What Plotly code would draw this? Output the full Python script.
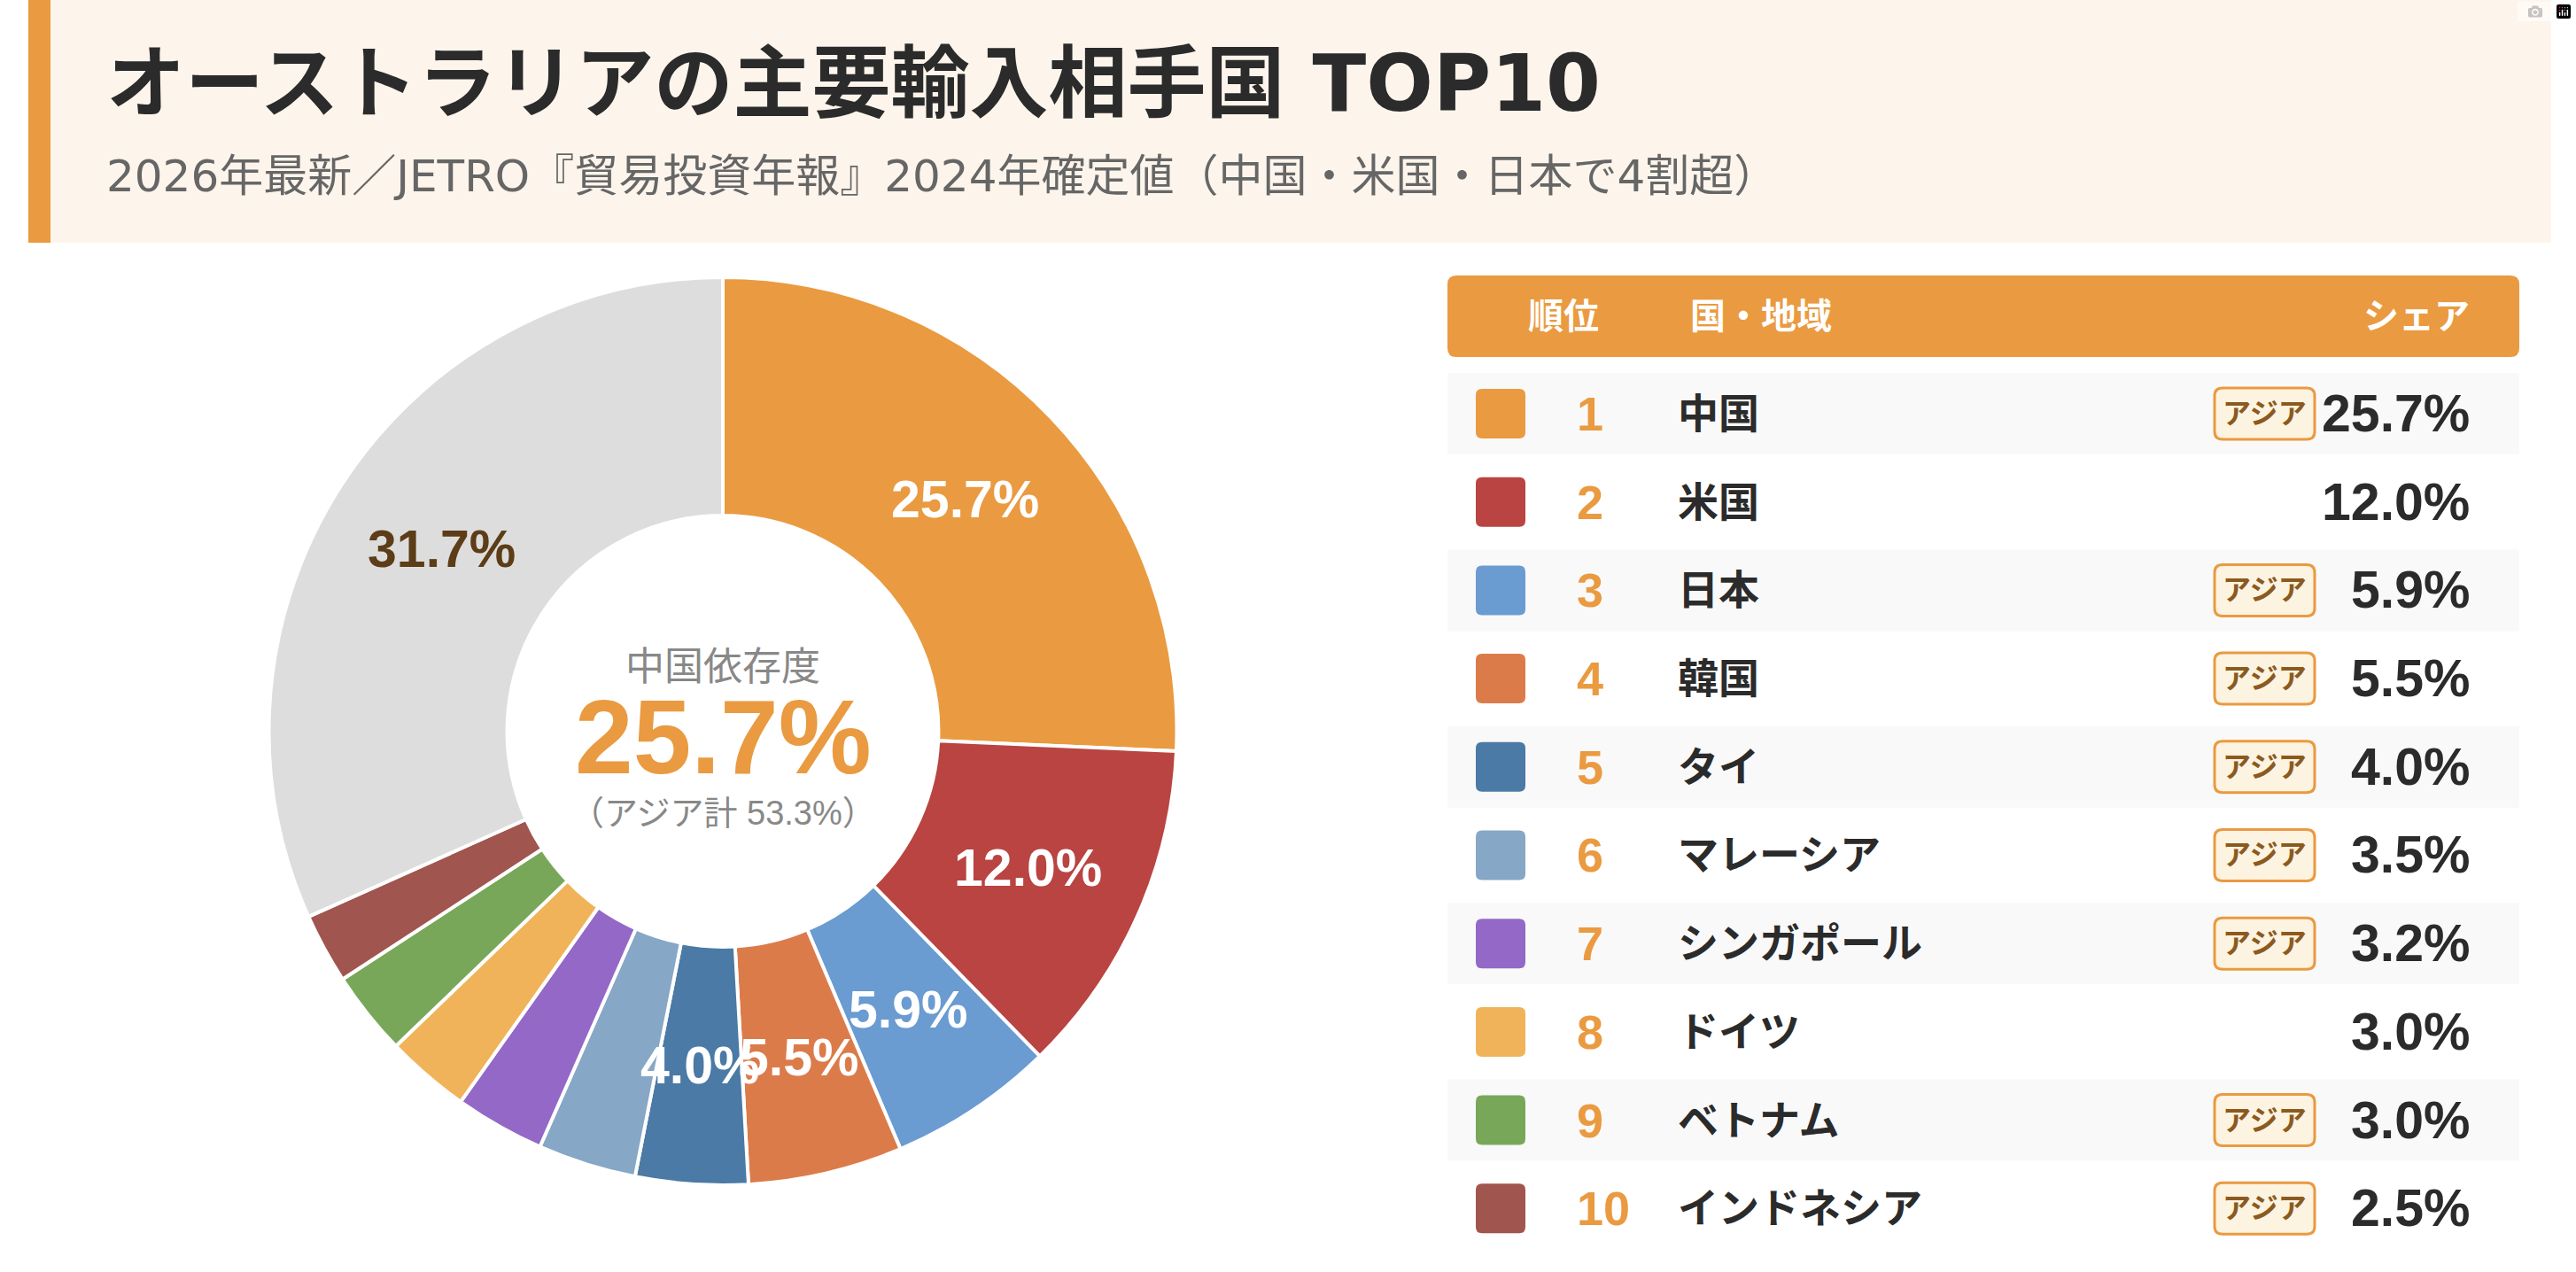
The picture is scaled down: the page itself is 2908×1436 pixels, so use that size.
import math
import plotly.graph_objects as go

# ---------------- data ----------------
countries = ["中国", "米国", "日本", "韓国", "タイ", "マレーシア", "シンガポール", "ドイツ", "ベトナム", "インドネシア"]
shares = [25.7, 12.0, 5.9, 5.5, 4.0, 3.5, 3.2, 3.0, 3.0, 2.5]
is_asia = [True, False, True, True, True, True, True, False, True, True]
others_name = "その他"
others_share = 31.7

title_text = "オーストラリアの主要輸入相手国 TOP10"
subtitle_text = "2026年最新／JETRO『貿易投資年報』2024年確定値（中国・米国・日本で4割超）"
header_labels = ["順位", "国・地域", "シェア"]
center_caption = "中国依存度"
badge_text = "アジア"

# ---------------- styles ----------------
slice_colors = ["#EA9A40", "#B94441", "#6A9BD1", "#DC7B4A", "#4A7AA5",
                "#86A7C6", "#9368C6", "#F0B35A", "#79A75A", "#A0554E"]
others_color = "#DDDDDD"
ORANGE = "#EA9A40"
DARK = "#2B2B2B"
W, H = 2908, 1436
FONT = "Liberation Sans, Noto Sans CJK JP, sans-serif"
WIDE_FONT = "DejaVu Sans, Noto Sans CJK JP, sans-serif"

def px(x):
    return x / W

def py(y):
    return 1 - y / H

def rrect_path(x0, y0, x1, y1, r):
    rx, ry = r / W, r / H
    X0, X1 = px(x0), px(x1)
    Yt, Yb = py(y0), py(y1)
    return (f"M {X0+rx},{Yt} L {X1-rx},{Yt} Q {X1},{Yt} {X1},{Yt-ry} "
            f"L {X1},{Yb+ry} Q {X1},{Yb} {X1-rx},{Yb} L {X0+rx},{Yb} "
            f"Q {X0},{Yb} {X0},{Yb+ry} L {X0},{Yt-ry} Q {X0},{Yt} {X0+rx},{Yt} Z")

# ---------------- pie ----------------
values = shares + [others_share]
labels = countries + [others_name]
colors = slice_colors + [others_color]

cx, cy, R = 816, 825.5, 512.5
hole = 0.475

fig = go.Figure(go.Pie(
    values=values, labels=labels, sort=False, direction="clockwise", rotation=0,
    hole=hole, textinfo="none", hoverinfo="label+value",
    marker=dict(colors=colors, line=dict(color="white", width=4)),
    domain=dict(x=[px(cx - R), px(cx + R)], y=[py(cy + R), py(cy - R)]),
))

shapes = []
ann = []

# header band
shapes.append(dict(type="rect", xref="paper", yref="paper", x0=px(32), x1=px(2880), y0=py(274), y1=py(0),
                   fillcolor="#FDF5EC", line=dict(width=0), layer="below"))
shapes.append(dict(type="rect", xref="paper", yref="paper", x0=px(32), x1=px(57), y0=py(274), y1=py(0),
                   fillcolor=ORANGE, line=dict(width=0), layer="below"))
ann.append(dict(text=f"<b>{title_text}</b>", x=px(118), y=py(94), xanchor="left", yanchor="middle",
                font=dict(size=89, color=DARK, family=WIDE_FONT)))
ann.append(dict(text=subtitle_text, x=px(118), y=py(199), xanchor="left", yanchor="middle",
                font=dict(size=50, color="#666666", family=WIDE_FONT)))

# pie labels at mid-ring radius
total = sum(values)
rm = R * (1 + hole) / 2
cum = 0.0
for v, c in zip(values, colors):
    mid = (cum + v / 2) / total * 2 * math.pi
    cum += v
    if v < 4.0:
        continue
    lx = cx + rm * math.sin(mid)
    ly = cy - rm * math.cos(mid)
    col = "#5C3D17" if c == others_color else "white"
    ann.append(dict(text=f"<b>{v:.1f}%</b>", x=px(lx), y=py(ly), xanchor="center", yanchor="middle",
                    font=dict(size=59, color=col, family=FONT)))

# center text
asia_total = sum(s for s, a in zip(shares, is_asia) if a)
ann.append(dict(text=center_caption, x=px(cx), y=py(752), xanchor="center", yanchor="middle",
                font=dict(size=44, color="#888888", family=FONT)))
ann.append(dict(text=f"<b>{shares[0]:.1f}%</b>", x=px(cx), y=py(832), xanchor="center", yanchor="middle",
                font=dict(size=118, color=ORANGE, family=FONT)))
ann.append(dict(text=f"（アジア計 {asia_total:.1f}%）", x=px(cx), y=py(918), xanchor="center", yanchor="middle",
                font=dict(size=38, color="#888888", family=FONT)))

# table header
TX0, TX1 = 1634, 2844
shapes.append(dict(type="path", xref="paper", yref="paper", path=rrect_path(TX0, 311, TX1, 403, 10),
                   fillcolor=ORANGE, line=dict(width=0), layer="below"))
hy = 357
ann.append(dict(text=f"<b>{header_labels[0]}</b>", x=px(1765), y=py(hy), xanchor="center", yanchor="middle",
                font=dict(size=40, color="white", family=FONT)))
ann.append(dict(text=f"<b>{header_labels[1]}</b>", x=px(1906), y=py(hy), xanchor="left", yanchor="middle",
                font=dict(size=40, color="white", family=FONT)))
ann.append(dict(text=f"<b>{header_labels[2]}</b>", x=px(2790), y=py(hy), xanchor="right", yanchor="middle",
                font=dict(size=40, color="white", family=FONT)))

# table rows
row0, pitch = 467, 99.7
for i, (name, s, asia, col) in enumerate(zip(countries, shares, is_asia, slice_colors)):
    ry = row0 + i * pitch
    if i % 2 == 0:
        shapes.append(dict(type="rect", xref="paper", yref="paper", x0=px(TX0), x1=px(TX1),
                           y0=py(ry + 46), y1=py(ry - 46), fillcolor="#F9F9F9", line=dict(width=0), layer="below"))
    shapes.append(dict(type="path", xref="paper", yref="paper", path=rrect_path(1666, ry - 28, 1722, ry + 28, 7),
                       fillcolor=col, line=dict(width=0), layer="below"))
    ann.append(dict(text=f"<b>{i + 1}</b>", x=px(1778), y=py(ry), xanchor="left", yanchor="middle",
                    font=dict(size=54, color=ORANGE, family=FONT)))
    ann.append(dict(text=f"<b>{name}</b>", x=px(1892), y=py(ry), xanchor="left", yanchor="middle",
                    font=dict(size=46, color=DARK, family=FONT)))
    if asia:
        shapes.append(dict(type="path", xref="paper", yref="paper", path=rrect_path(2500, ry - 29, 2613, ry + 29, 9),
                           fillcolor="#FDF3E1", line=dict(width=3, color=ORANGE), layer="below"))
        ann.append(dict(text=f"<b>{badge_text}</b>", x=px(2556.5), y=py(ry), xanchor="center", yanchor="middle",
                        font=dict(size=32, color="#8B5A1E", family=FONT)))
    ann.append(dict(text=f"<b>{s:.1f}%</b>", x=px(2790), y=py(ry), xanchor="right", yanchor="middle",
                    font=dict(size=59, color=DARK, family=FONT)))

for a in ann:
    a.update(xref="paper", yref="paper", showarrow=False)

fig.update_layout(
    width=W, height=H, margin=dict(l=0, r=0, t=0, b=0),
    paper_bgcolor="white", plot_bgcolor="white", showlegend=False,
    shapes=shapes, annotations=ann,
)

fig.write_html("out.html", post_script="document.body.style.margin='0px';document.body.style.overflow='hidden';")
